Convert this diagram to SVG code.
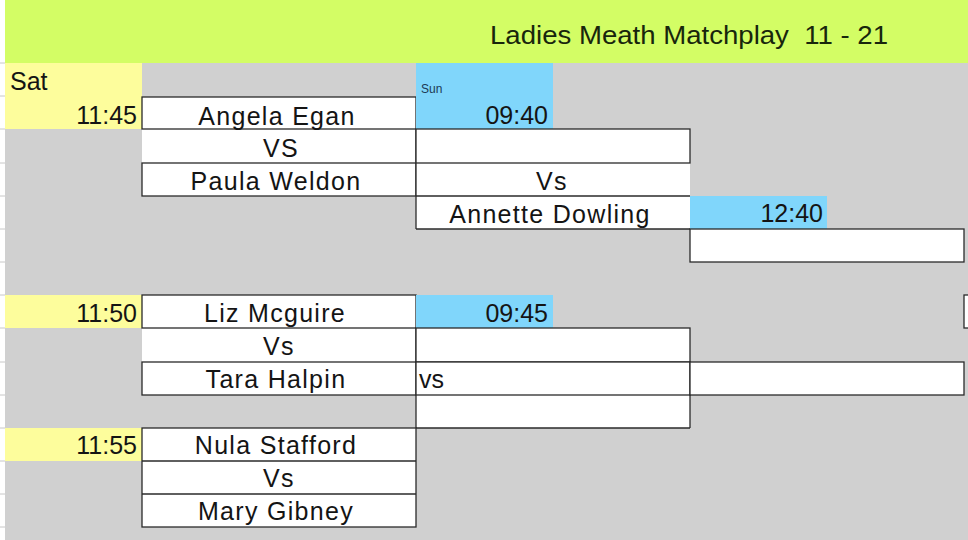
<svg xmlns="http://www.w3.org/2000/svg" width="968" height="540" viewBox="0 0 968 540">
<style>
.t{font-family:"Liberation Sans","Noto Sans CJK KR",sans-serif;font-size:25px;fill:#141414}
.n{letter-spacing:1.3px}
.c{text-anchor:middle}
.r{text-anchor:end}
.box{fill:#fff;stroke:#2a2a2a;stroke-width:1.3}
.ln{stroke:#2a2a2a;stroke-width:1.3;fill:none}
.y{fill:#fdfd9c}
.b{fill:#80d6fb}
.tick{stroke:#c8c8c8;stroke-width:1}
</style>
<rect x="0" y="0" width="968" height="540" fill="#fff"/>
<rect x="5" y="63" width="963" height="477" fill="#d0d0d0"/>
<g id="left-strip">
<line class="tick" x1="0" y1="63" x2="5" y2="63"/><line class="tick" x1="0" y1="96" x2="5" y2="96"/>
<line class="tick" x1="0" y1="129" x2="5" y2="129"/><line class="tick" x1="0" y1="163" x2="5" y2="163"/>
<line class="tick" x1="0" y1="196" x2="5" y2="196"/><line class="tick" x1="0" y1="229" x2="5" y2="229"/>
<line class="tick" x1="0" y1="262" x2="5" y2="262"/><line class="tick" x1="0" y1="295" x2="5" y2="295"/>
<line class="tick" x1="0" y1="328" x2="5" y2="328"/><line class="tick" x1="0" y1="362" x2="5" y2="362"/>
<line class="tick" x1="0" y1="395" x2="5" y2="395"/><line class="tick" x1="0" y1="428" x2="5" y2="428"/>
<line class="tick" x1="0" y1="461" x2="5" y2="461"/><line class="tick" x1="0" y1="494" x2="5" y2="494"/>
<line class="tick" x1="0" y1="527" x2="5" y2="527"/>
</g>
<g id="title">
<rect x="5" y="0" width="963" height="63" fill="#d3fd65"/>
<text class="t" x="490" y="44" textLength="398" lengthAdjust="spacingAndGlyphs" style="fill:#18260c;white-space:pre">Ladies Meath Matchplay  11 - 21</text>
</g>

<g id="sat-1145">
<rect class="y" x="5" y="63" width="137" height="66"/>
<text class="t" x="10" y="90">Sat</text>
<text class="t r" x="137" y="124">11:45</text>
</g>
<g id="match-1">
<rect x="142" y="97" width="274" height="99" fill="#fff"/>
<rect class="box" x="142" y="97" width="274" height="32"/>
<rect class="box" x="142" y="163" width="274" height="33"/>
<line class="ln" x1="416" y1="129" x2="416" y2="163"/>
<text class="t c n" x="277" y="125">Angela Egan</text>
<text class="t c n" x="281" y="157">VS</text>
<text class="t c n" x="276" y="190">Paula Weldon</text>
</g>
<g id="sun-0940">
<rect class="b" x="416" y="63" width="137" height="66"/>
<text class="t" x="421" y="93" style="font-size:12px;fill:#1d3a55">Sun</text>
<text class="t r" x="548" y="124">09:40</text>
</g>
<g id="semi-1">
<rect x="416" y="129" width="274" height="100" fill="#fff"/>
<rect class="box" x="416" y="129" width="274" height="34"/>
<line class="ln" x1="416" y1="163" x2="416" y2="229"/>
<line class="ln" x1="416" y1="196" x2="690" y2="196"/>
<line class="ln" x1="416" y1="229" x2="690" y2="229"/>
<text class="t c n" x="552" y="190">Vs</text>
<text class="t c n" x="550" y="223">Annette Dowling</text>
</g>
<g id="final-1240">
<rect class="b" x="690" y="196" width="137" height="33"/>
<text class="t r" x="823" y="222">12:40</text>
<rect class="box" x="690" y="229" width="274" height="33"/>
</g>

<g id="time-1150">
<rect class="y" x="5" y="295" width="137" height="33"/>
<text class="t r" x="137" y="322">11:50</text>
</g>
<g id="match-2">
<rect x="142" y="295" width="274" height="100" fill="#fff"/>
<rect class="box" x="142" y="295" width="274" height="33"/>
<rect class="box" x="142" y="362" width="274" height="33"/>
<line class="ln" x1="416" y1="328" x2="416" y2="362"/>
<text class="t c n" x="275" y="322">Liz Mcguire</text>
<text class="t c n" x="279" y="355">Vs</text>
<text class="t c n" x="276" y="388">Tara Halpin</text>
</g>
<g id="sun-0945">
<rect class="b" x="416" y="295" width="137" height="33"/>
<text class="t r" x="548" y="322">09:45</text>
</g>
<g id="semi-2">
<rect x="416" y="328" width="274" height="100" fill="#fff"/>
<rect class="box" x="416" y="328" width="274" height="34"/>
<rect class="box" x="416" y="362" width="274" height="33"/>
<line class="ln" x1="416" y1="395" x2="416" y2="428"/>
<line class="ln" x1="690" y1="395" x2="690" y2="428"/>
<line class="ln" x1="416" y1="428" x2="690" y2="428"/>
<text class="t" x="419" y="388">vs</text>
</g>
<g id="final-2">
<rect class="box" x="690" y="362" width="274" height="33"/>
<rect class="box" x="964" y="295" width="10" height="33"/>
</g>

<g id="time-1155">
<rect class="y" x="5" y="428" width="137" height="33"/>
<text class="t r" x="137" y="454">11:55</text>
</g>
<g id="match-3">
<rect class="box" x="142" y="428" width="274" height="99"/>
<line class="ln" x1="142" y1="461" x2="416" y2="461"/>
<line class="ln" x1="142" y1="494" x2="416" y2="494"/>
<text class="t c n" x="276" y="454">Nula Stafford</text>
<text class="t c n" x="279" y="487">Vs</text>
<text class="t c n" x="276" y="520">Mary Gibney</text>
</g>
<g id="connectors"></g>
</svg>
